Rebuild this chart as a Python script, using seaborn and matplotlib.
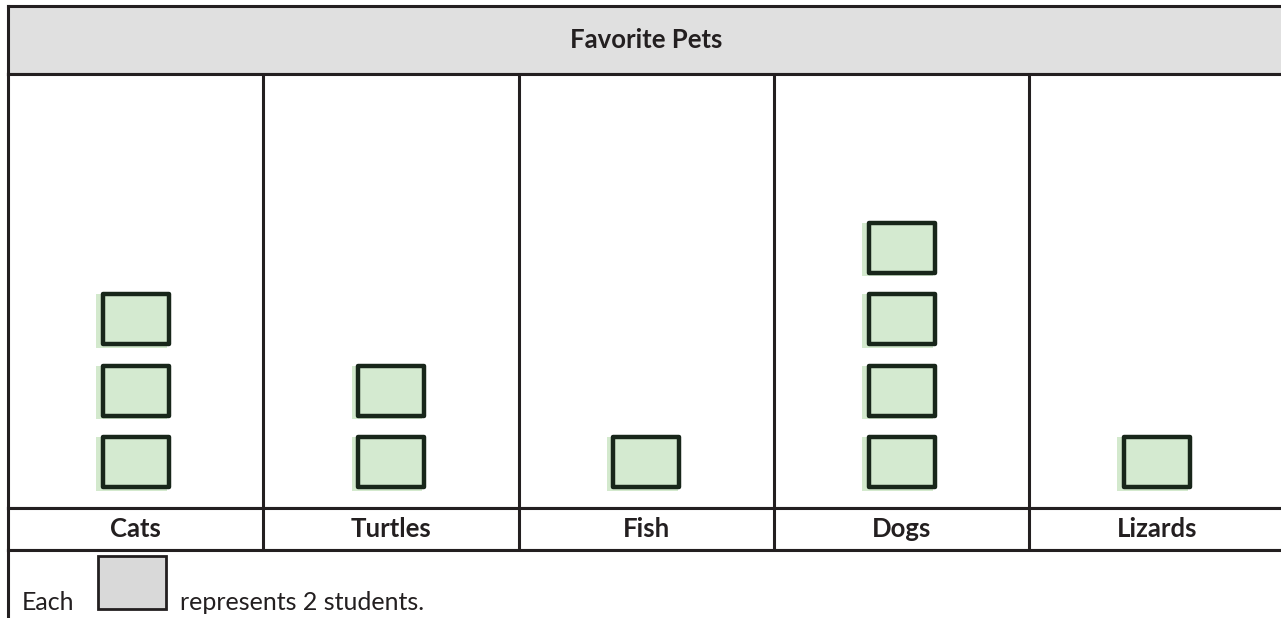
import matplotlib
matplotlib.use("Agg")
import matplotlib.pyplot as plt
from matplotlib.path import Path
from matplotlib.patches import Rectangle
from matplotlib.transforms import offset_copy
import seaborn as sns
import pandas as pd

# data
pets = ["Cats", "Turtles", "Fish", "Dogs", "Lizards"]
students = [6, 4, 2, 8, 2]
per_icon = 2
title = "Favorite Pets"
key_left = "Each"
key_right = "represents 2 students."

rows = []
for pet, n in zip(pets, students):
    for k in range(n // per_icon):
        rows.append({"pet": pet, "icon": k})
df = pd.DataFrame(rows)

sns.set_style("white")
plt.rcParams["font.family"] = ["Lato", "DejaVu Sans"]

W, H = 1281, 618
fig = plt.figure(figsize=(W / 100, H / 100), dpi=100)
line = "#231f20"
lw = 2.2
txt = "#231f20"


def box(top, bottom):
    return [8 / W, 1 - bottom / H, 1276.5 / W, (bottom - top) / H]


def frame(a, sides=("left", "right", "top", "bottom")):
    a.set_xticks([])
    a.set_yticks([])
    for s, sp in a.spines.items():
        sp.set_visible(s in sides)
        sp.set_color(line)
        sp.set_linewidth(lw)


ax_t = fig.add_axes(box(6, 74))
ax = fig.add_axes(box(74, 508))
ax_l = fig.add_axes(box(508, 550))
ax_f = fig.add_axes(box(550, 640))

# title row
ax_t.set_facecolor("#e0e0e0")
frame(ax_t)
ax_t.text(0.5, 0.5, title, ha="center", va="center", fontsize=18.5,
          fontweight="bold", color=txt, transform=ax_t.transAxes)

# pictograph icons
r = 0.75
icon = Path([(-1, -r), (1, -r), (1, r), (-1, r), (-1, -r)],
            [Path.MOVETO, Path.LINETO, Path.LINETO, Path.LINETO, Path.CLOSEPOLY])
wash = offset_copy(ax.transData, fig=fig, x=-4, y=-2, units="dots")
sns.scatterplot(data=df, x="pet", y="icon", marker=icon, s=2600,
                color="#d3e9cd", edgecolor="none", linewidth=0,
                transform=wash, legend=False, ax=ax, zorder=2)
sns.scatterplot(data=df, x="pet", y="icon", marker=icon, s=2325,
                color="#d4ead0", edgecolor="#18261a", linewidth=3.2,
                joinstyle="round", legend=False, ax=ax, zorder=3)
ax.set_xlim(-0.5, len(pets) - 0.5)
ax.set_ylim(-0.643, 5.427)
ax.set_xlabel("")
ax.set_ylabel("")
frame(ax)
for i in range(len(pets) - 1):
    ax.axvline(i + 0.5, color=line, lw=lw, zorder=1)

# category label row
ax_l.set_xlim(-0.5, len(pets) - 0.5)
frame(ax_l)
for i, pet in enumerate(pets):
    ax_l.text(i, 0.5, pet, ha="center", va="center", fontsize=18.5,
              fontweight="bold", color=txt, transform=ax_l.get_xaxis_transform())
    if i < len(pets) - 1:
        ax_l.axvline(i + 0.5, color=line, lw=lw)

# key row
ax_f.set_xlim(0, 1276.5)
ax_f.set_ylim(90, 0)
frame(ax_f, sides=("left", "top"))
ax_f.text(14, 60, key_left, ha="left", va="baseline", fontsize=18, color=txt)
ax_f.add_patch(Rectangle((90, 6), 68, 53, facecolor="#d9d9d9",
                         edgecolor=line, lw=2))
ax_f.text(172, 60, key_right, ha="left", va="baseline", fontsize=18, color=txt)

fig.savefig("out.png", dpi=100)
